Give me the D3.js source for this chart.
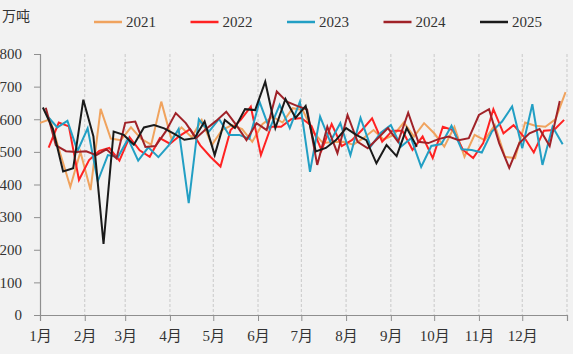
<!DOCTYPE html>
<html>
<head>
<meta charset="utf-8">
<script src="https://cdn.jsdelivr.net/npm/d3@7"></script>
<style>
  body { margin: 0; background: #f2f2f2; }
  svg { display: block; }
  text { font-family: "Liberation Serif", "Noto Sans CJK SC", serif; fill: #333; }
</style>
</head>
<body>
<svg id="chart" width="573" height="354"></svg>
<script>
// weekly output (万吨), one value per Friday of each year
const years = ["2021", "2022", "2023", "2024", "2025"];
const v2021 = [589, 600, 495, 393, 500, 383, 632, 541, 536, 575, 540, 522, 654, 540, 575, 545, 598, 521, 567, 582,
  570, 531, 585, 608, 590, 634, 628, 562, 527, 530, 531, 522, 542, 567, 538, 552, 590, 547, 588, 557,
  516, 577, 485, 552, 536, 582, 485, 481, 590, 580, 577, 600, 683];
const v2022 = [513, 590, 578, 414, 475, 503, 512, 473, 545, 505, 485, 542, 525, 550, 570, 520, 485, 455, 567, 598,
  639, 490, 577, 577, 600, 604, 580, 505, 585, 518, 536, 567, 603, 531, 565, 565, 506, 547, 481, 577,
  567, 506, 481, 527, 631, 557, 582, 547, 498, 565, 567, 598];
const v2023 = [610, 575, 595, 503, 572, 410, 490, 484, 540, 473, 514, 484, 519, 570, 343, 600, 562, 601, 552, 552,
  540, 654, 570, 644, 573, 654, 439, 608, 531, 588, 490, 604, 516, 559, 582, 516, 542, 454, 518, 524,
  580, 508, 506, 498, 562, 593, 639, 511, 646, 460, 577, 523];
const v2024 = [635, 520, 502, 500, 502, 490, 508, 480, 589, 593, 515, 518, 562, 619, 588, 542, 570, 595, 623, 582,
  536, 588, 567, 685, 654, 641, 630, 460, 577, 496, 613, 531, 511, 542, 573, 531, 620, 531, 527, 539,
  547, 536, 542, 613, 631, 527, 451, 527, 557, 570, 518, 656];
const v2025 = [636, 570, 440, 450, 660, 547, 218, 562, 552, 522, 575, 582, 572, 555, 537, 542, 593, 490, 598, 573,
  631, 628, 715, 573, 662, 604, 641, 501, 512, 536, 573, 552, 536, 465, 521, 487, 573, 516];
const values = [v2021, v2022, v2023, v2024, v2025];
const colors = ["#f0a35e", "#ff2222", "#229fc4", "#a02228", "#1a1a1a"];
const monthLabels = ["1月", "2月", "3月", "4月", "5月", "6月", "7月", "8月", "9月", "10月", "11月", "12月"];
const yTicks = [0, 100, 200, 300, 400, 500, 600, 700, 800];

const svg = d3.select("#chart");
const margin = {left: 40, right: 6, top: 54, bottom: 39};
const W = 573, H = 354;

// all years share one calendar axis (mapped onto 2021)
const x = d3.scaleTime()
  .domain([new Date(2021, 0, 1), new Date(2022, 0, 1)])
  .range([margin.left, W - margin.right]);
const y = d3.scaleLinear().domain([0, 800]).range([H - margin.bottom, margin.top]);

function onAxis(d) {
  return new Date(2021, d.getMonth(), d.getDate());
}

const monthStarts = d3.timeMonth.range(new Date(2021, 0, 1), new Date(2022, 0, 2));

// vertical dashed grid at month boundaries
svg.append("g").selectAll("line").data(monthStarts.slice(1)).enter().append("line")
  .attr("x1", d => x(d)).attr("x2", d => x(d))
  .attr("y1", y(800)).attr("y2", y(0))
  .attr("stroke", "#c9c9c9").attr("stroke-width", 1).attr("stroke-dasharray", "3,2");

// axes
const xAxis = svg.append("g").attr("transform", `translate(0,${y(0)})`)
  .call(d3.axisBottom(x).tickValues(monthStarts).tickSize(6).tickPadding(9)
    .tickFormat((d, i) => monthLabels[i] || ""));
const yAxis = svg.append("g").attr("transform", `translate(${margin.left},0)`)
  .call(d3.axisLeft(y).tickValues(yTicks).tickSize(6).tickPadding(12).tickFormat(d3.format("d")));
[xAxis, yAxis].forEach(function(g) {
  g.select(".domain").attr("stroke", "#8f8f8f").attr("stroke-width", 1.2);
  g.selectAll(".tick line").attr("stroke", "#8f8f8f");
  g.selectAll(".tick text").attr("font-size", 15).attr("fill", "#333")
    .attr("font-family", "'Liberation Serif', 'Noto Sans CJK SC', serif");
});

// series
const line = d3.line().x(d => x(d.date)).y(d => y(d.value));
years.forEach(function(yr, k) {
  const fridays = d3.timeFriday.range(new Date(+yr, 0, 1), new Date(+yr + 1, 0, 1));
  const pts = values[k].map(function(v, i) {
    return {date: onAxis(fridays[i]), value: v};
  });
  svg.append("path").datum(pts).attr("d", line)
    .attr("fill", "none").attr("stroke", colors[k]).attr("stroke-width", 2)
    .attr("stroke-linejoin", "miter");
});

// unit label
svg.append("text").attr("x", 2).attr("y", 21).attr("font-size", 14)
  .attr("font-family", "'Noto Sans CJK SC', sans-serif").text("万吨");

// legend
const legend = svg.append("g").attr("transform", "translate(94,22)");
years.forEach(function(yr, k) {
  const g = legend.append("g").attr("transform", `translate(${k * 96.5},0)`);
  g.append("line").attr("x1", 0).attr("x2", 28).attr("y1", 0).attr("y2", 0)
    .attr("stroke", colors[k]).attr("stroke-width", 2.5);
  g.append("text").attr("x", 32).attr("y", 5).attr("font-size", 15).text(yr);
});
</script>
</body>
</html>
